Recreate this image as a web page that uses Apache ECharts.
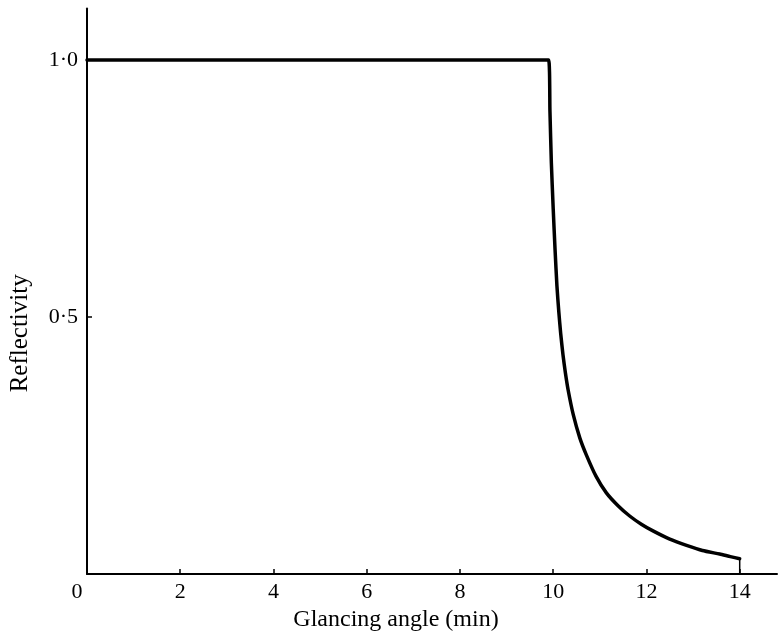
<!DOCTYPE html>
<html>
<head>
<meta charset="utf-8">
<script src="https://cdn.jsdelivr.net/npm/echarts@6/dist/echarts.min.js"></script>
<style>
html,body{margin:0;padding:0;background:#fff;}
#chart{width:778px;height:637px;}
</style>
</head>
<body>
<div id="chart"></div>
<script>
// Data
const angle = [0, 9.9, 9.93, 9.96, 10.0, 10.04, 10.08, 10.12, 10.16, 10.21, 10.26, 10.32, 10.43, 10.57, 10.71, 10.92, 11.14, 11.39, 11.64, 11.89, 12.14, 12.5, 12.86, 13.2, 13.57, 13.8, 14.0];
const reflectivity = [1.0, 1.0, 0.90, 0.80, 0.71, 0.63, 0.56, 0.51, 0.468, 0.426, 0.392, 0.358, 0.31, 0.265, 0.232, 0.19, 0.158, 0.133, 0.113, 0.097, 0.084, 0.068, 0.056, 0.046, 0.039, 0.034, 0.030];
const endAngle = [14.0, 14.0];
const endReflectivity = [0.030, 0];
const xTicks = [0, 2, 4, 6, 8, 10, 12, 14];
const yTicks = [0.5, 1.0];
const yTickLabels = ['0·5', '1·0'];

const font = 'Liberation Serif';
const chart = echarts.init(document.getElementById('chart'));
chart.setOption({
  backgroundColor: '#fff',
  animation: false,
  grid: {left: 85, right: 1, top: 8.5, bottom: 62, containLabel: false},
  xAxis: {
    type: 'value', min: 0, max: 14.8, interval: 2,
    name: 'Glancing angle (min)', nameLocation: 'middle', nameGap: 31,
    nameTextStyle: {fontFamily: font, fontSize: 24, color: '#000', padding: [0, 72, 0, 0]},
    axisLine: {show: true, lineStyle: {color: '#000', width: 2}},
    axisTick: {show: true, inside: true, length: 5, customValues: xTicks, lineStyle: {color: '#000', width: 1.5}},
    splitLine: {show: false},
    axisLabel: {
      fontFamily: font, fontSize: 22, color: '#000', margin: 7,
      customValues: xTicks,
      formatter: v => (v === 0 ? '{z|0}' : String(v)),
      rich: {z: {fontFamily: font, fontSize: 22, color: '#000', padding: [0, 20, 0, 0]}}
    }
  },
  yAxis: {
    type: 'value', min: 0, max: 1.1, interval: 0.5,
    name: 'Reflectivity', nameLocation: 'middle', nameGap: 54, nameRotate: 90,
    nameTextStyle: {fontFamily: font, fontSize: 25, color: '#000', padding: [0, 84, 0, 0]},
    axisLine: {show: true, lineStyle: {color: '#000', width: 2}},
    axisTick: {show: true, inside: true, length: 5, customValues: yTicks, lineStyle: {color: '#000', width: 1.5}},
    splitLine: {show: false},
    axisLabel: {
      fontFamily: font, fontSize: 22, color: '#000', margin: 9,
      customValues: yTicks,
      formatter: v => yTickLabels[yTicks.indexOf(v)] || ''
    }
  },
  series: [{
    type: 'line',
    data: angle.map((a, i) => [a, reflectivity[i]]),
    showSymbol: false,
    smooth: 0.2,
    lineStyle: {color: '#000', width: 3.5, join: 'round', cap: 'round'},
    clip: false
  }, {
    type: 'line',
    data: endAngle.map((a, i) => [a, endReflectivity[i]]),
    showSymbol: false,
    lineStyle: {color: '#000', width: 1.5},
    clip: false
  }]
});
</script>
</body>
</html>
